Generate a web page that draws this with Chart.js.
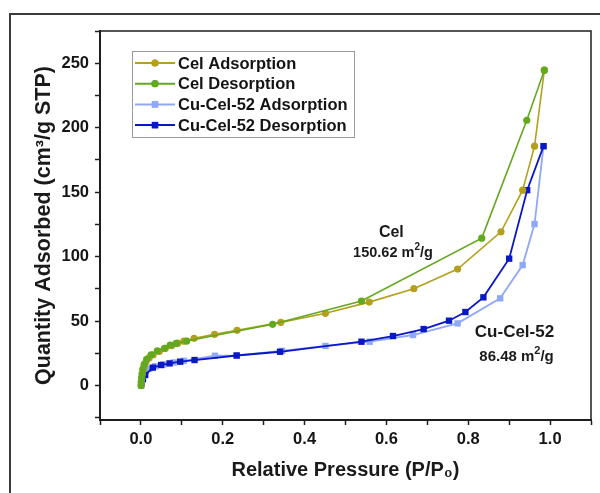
<!DOCTYPE html>
<html>
<head>
<meta charset="utf-8">
<script src="https://cdn.jsdelivr.net/npm/chart.js@4.4.1/dist/chart.umd.min.js"></script>
<style>
  html, body { margin: 0; padding: 0; background: #ffffff; }
  #wrap { position: relative; width: 600px; height: 493px; overflow: hidden; background: #ffffff; }
  #frame { position: absolute; left: 9px; top: 13px; width: 620px; height: 520px;
           border-top: 2px solid #3a3a3a; border-left: 2px solid #3a3a3a; }
  #c { position: absolute; left: 0; top: 0; }
</style>
</head>
<body>
<div id="wrap">
  <div id="frame"></div>
  <canvas id="c" width="600" height="493"></canvas>
</div>
<script>
// ---- Data ----
const seriesNames = ['Cel Adsorption', 'Cel Desorption', 'Cu-Cel-52 Adsorption', 'Cu-Cel-52 Desorption'];

const celAdsX = [0.0005, 0.001, 0.002, 0.003, 0.005, 0.008, 0.012, 0.02, 0.03, 0.045, 0.06, 0.075, 0.09, 0.105, 0.13, 0.18, 0.235, 0.342, 0.451, 0.558, 0.667, 0.774, 0.88, 0.933, 0.962, 0.986];
const celAdsY = [0.5, 3, 6, 9, 12, 15, 18, 21.5, 24, 26.5, 29, 31, 33, 34.5, 36.7, 39.8, 42.9, 49.1, 56.1, 64.8, 75.2, 90.4, 119.3, 151.6, 185.7, 244.6];

const celDesX = [0.986, 0.943, 0.833, 0.539, 0.322, 0.112, 0.086, 0.0715, 0.0576, 0.04, 0.025, 0.014, 0.008, 0.005, 0.003, 0.002, 0.001, 0.0005];
const celDesY = [244.6, 205.8, 114.4, 65.6, 47.6, 34.6, 32.8, 31.5, 29, 27, 24, 20.5, 16.5, 13, 9, 6, 3, 0];

const cuAdsX = [0.0005, 0.001, 0.002, 0.004, 0.007, 0.012, 0.02, 0.035, 0.055, 0.08, 0.105, 0.181, 0.234, 0.345, 0.451, 0.559, 0.665, 0.774, 0.878, 0.933, 0.962, 0.984];
const cuAdsY = [0, 2, 4.5, 7, 9.5, 11.5, 13, 15, 16.5, 18, 19.3, 23.2, 23.4, 27, 30.8, 34.1, 39.3, 48.3, 67.7, 93.5, 125.3, 185.7];

const cuDesX = [0.984, 0.944, 0.9, 0.837, 0.793, 0.753, 0.691, 0.616, 0.539, 0.34, 0.234, 0.131, 0.096, 0.07, 0.0495, 0.029, 0.0105, 0.005, 0.002];
const cuDesY = [185.7, 151.6, 98.5, 68.5, 57.1, 50.4, 43.9, 38.5, 34.1, 26.3, 23.4, 19.9, 18.6, 17.3, 16, 14, 8.3, 5, 2];

const xTickValues = [-0.1, 0, 0.1, 0.2, 0.3, 0.4, 0.5, 0.6, 0.7, 0.8, 0.9, 1.0, 1.1];
const xTickLabels = ['', '0.0', '', '0.2', '', '0.4', '', '0.6', '', '0.8', '', '1.0', ''];
const yTickValues = [-25, 0, 25, 50, 75, 100, 125, 150, 175, 200, 225, 250, 275];
const yTickLabels = ['', '0', '', '50', '', '100', '', '150', '', '200', '', '250', ''];

const annotationTexts = ['Cel', '150.62 m²/g', 'Cu-Cel-52', '86.48 m²/g'];

// ---- Build chart ----
const FONT = "'Liberation Sans', Arial, sans-serif";
const pts = (xs, ys) => xs.map((x, i) => ({ x: x, y: ys[i] }));

const colors = ['#b3a01c', '#63a91f', '#8fa8f7', '#0a17c6'];

const datasets = [
  { label: seriesNames[0], data: pts(celAdsX, celAdsY), borderColor: colors[0], backgroundColor: colors[0], pointStyle: 'circle', pointRadius: 3.6, borderWidth: 1.6, order: 1 },
  { label: seriesNames[1], data: pts(celDesX, celDesY), borderColor: colors[1], backgroundColor: colors[1], pointStyle: 'circle', pointRadius: 3.6, borderWidth: 1.6, order: 0 },
  { label: seriesNames[2], data: pts(cuAdsX, cuAdsY), borderColor: colors[2], backgroundColor: colors[2], pointStyle: 'rect', pointRadius: 4.5, borderWidth: 1.8, order: 3 },
  { label: seriesNames[3], data: pts(cuDesX, cuDesY), borderColor: colors[3], backgroundColor: colors[3], pointStyle: 'rect', pointRadius: 4.5, borderWidth: 1.8, order: 2 }
];
datasets.forEach(d => { d.showLine = true; d.pointBorderWidth = 0; d.pointHoverRadius = d.pointRadius; d.tension = 0; });

// draws a string, rendering '²' as a raised, smaller '2'
function drawSupText(ctx, text, cx, cy, size) {
  const parts = text.split('²');
  const big = 'bold ' + size + 'px ' + FONT;
  const small = 'bold ' + Math.round(size * 0.72) + 'px ' + FONT;
  ctx.font = big;
  let total = 0;
  parts.forEach((p, i) => {
    ctx.font = big; total += ctx.measureText(p).width;
    if (i < parts.length - 1) { ctx.font = small; total += ctx.measureText('2').width; }
  });
  let x = cx - total / 2;
  ctx.textAlign = 'left';
  ctx.textBaseline = 'middle';
  parts.forEach((p, i) => {
    ctx.font = big; ctx.fillText(p, x, cy); x += ctx.measureText(p).width;
    if (i < parts.length - 1) {
      ctx.font = small; ctx.fillText('2', x, cy - size * 0.38); x += ctx.measureText('2').width;
    }
  });
}

const decorPlugin = {
  id: 'decor',
  afterDatasetsDraw(chart) {
    const ctx = chart.ctx;
    const a = chart.chartArea;
    // top & right plot frame
    ctx.save();
    ctx.strokeStyle = '#1e1e1e';
    ctx.lineWidth = 1.5;
    ctx.beginPath();
    ctx.moveTo(a.left, a.top);
    ctx.lineTo(a.right, a.top);
    ctx.lineTo(a.right, a.bottom);
    ctx.stroke();

    // Legend box
    const lg = chart.options.plugins.customLegend;
    ctx.fillStyle = '#ffffff';
    ctx.fillRect(lg.x, lg.y, lg.w, lg.h);
    ctx.strokeStyle = '#9a9a9a';
    ctx.lineWidth = 1;
    ctx.strokeRect(lg.x + 0.5, lg.y + 0.5, lg.w, lg.h);
    chart.data.datasets.forEach((ds, i) => {
      const cy = lg.y + lg.firstRow + i * lg.rowGap;
      ctx.strokeStyle = ds.borderColor;
      ctx.lineWidth = 2;
      ctx.beginPath();
      ctx.moveTo(lg.x + 3, cy);
      ctx.lineTo(lg.x + 43, cy);
      ctx.stroke();
      ctx.fillStyle = ds.borderColor;
      ctx.beginPath();
      Chart.helpers.drawPoint(ctx, { pointStyle: ds.pointStyle, rotation: 0, borderWidth: 0, radius: ds.pointRadius }, lg.x + 23, cy);
      ctx.fill();
      ctx.fillStyle = '#141414';
      ctx.font = 'bold 16.5px ' + FONT;
      ctx.textAlign = 'left';
      ctx.textBaseline = 'middle';
      ctx.fillText(ds.label, lg.x + 46, cy + 1);
    });

    // Annotations anchored in data coordinates
    const xs = chart.scales.x, ys = chart.scales.y;
    ctx.fillStyle = '#1a1a1a';
    chart.options.plugins.notes.items.forEach(n => {
      drawSupText(ctx, annotationTexts[n.t], xs.getPixelForValue(n.x), ys.getPixelForValue(n.y), n.size);
    });
    ctx.restore();
  }
};

new Chart(document.getElementById('c'), {
  type: 'scatter',
  data: { datasets: datasets },
  options: {
    responsive: false,
    animation: false,
    devicePixelRatio: 1,
    layout: { padding: { left: 0, right: 9, top: 31, bottom: 0 } },
    plugins: {
      legend: { display: false },
      tooltip: { enabled: false },
      customLegend: { x: 132, y: 51, w: 222, h: 86, firstRow: 12, rowGap: 20.7 },
      notes: { items: [
        { t: 0, x: 0.612, y: 119, size: 16 },
        { t: 1, x: 0.616, y: 103, size: 14.5 },
        { t: 2, x: 0.913, y: 41.5, size: 17 },
        { t: 3, x: 0.918, y: 22.5, size: 15 }
      ] }
    },
    scales: {
      x: {
        type: 'linear', min: -0.1, max: 1.1,
        afterBuildTicks: s => { s.ticks = xTickValues.map(v => ({ value: v })); },
        afterFit: s => { s.height = 73; },
        ticks: {
          autoSkip: false, maxRotation: 0, padding: 5, color: '#151515',
          font: { family: FONT, size: 16.5, weight: 'bold' },
          callback: (v, i) => xTickLabels[i]
        },
        grid: { display: true, drawOnChartArea: false, drawTicks: true, tickLength: 5, color: '#1e1e1e', tickWidth: 1.5 },
        border: { display: true, color: '#1e1e1e', width: 2 },
        title: { display: true, text: 'Relative Pressure (P/P₀)', color: '#1a1a1a',
                 font: { family: FONT, size: 20, weight: 'bold' }, padding: { top: 0, bottom: 11 } }
      },
      y: {
        type: 'linear', min: -26.6, max: 275,
        afterBuildTicks: s => { s.ticks = yTickValues.map(v => ({ value: v })); },
        afterFit: s => { s.width = 100; },
        ticks: {
          autoSkip: false, padding: 6, color: '#151515',
          font: { family: FONT, size: 16.5, weight: 'bold' },
          callback: (v, i) => yTickLabels[i]
        },
        grid: { display: true, drawOnChartArea: false, drawTicks: true, tickLength: 5, color: '#1e1e1e', tickWidth: 1.5 },
        border: { display: true, color: '#1e1e1e', width: 2 },
        title: { display: true, text: 'Quantity Adsorbed (cm³/g STP)', color: '#1a1a1a',
                 font: { family: FONT, size: 21.5, weight: 'bold' }, padding: { top: 31, bottom: 0 } }
      }
    }
  },
  plugins: [decorPlugin]
});
</script>
</body>
</html>
